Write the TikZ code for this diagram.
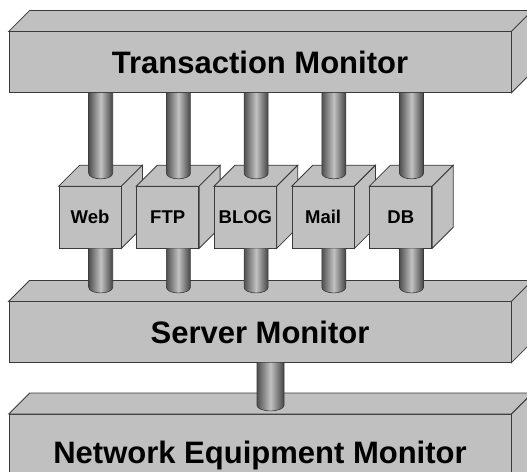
\documentclass[tikz,border=0pt]{standalone}
\usepackage{fontspec}
\setmainfont{Liberation Sans}
\usetikzlibrary{calc}
\definecolor{slab}{HTML}{C0C0C0}
\definecolor{edge}{HTML}{3A3A3A}
\definecolor{pillardark}{HTML}{505050}
\definecolor{pillarlight}{HTML}{C2C2C2}
\tikzstyle{face}=[draw=edge, fill=slab, line width=0.8pt]
\tikzstyle{monitor}=[face, minimum width=502pt, minimum height=60.5pt, inner sep=0, font=\fontsize{31}{36}\selectfont\bfseries]
\tikzstyle{service}=[face, minimum width=62pt, minimum height=61.3pt, inner sep=0, font=\fontsize{18.5}{21}\selectfont\bfseries]
\tikzstyle{pillar}=[left color=pillardark, right color=pillardark!85!black, middle color=pillarlight, draw=edge, line width=0.6pt]
% shaded column from a top point down to the lowest point of its rounded end
\newcommand{\pillar}[3]{\draw[pillar] ($(#1)+(-#3/2,0)$) -- ($(#2)+(-#3/2,5.5)$)
  arc[start angle=180, end angle=360, x radius=#3/2, y radius=5.5] -- ($(#1)+(#3/2,0)$);}
% top and right faces of a box whose front face is a node
\newcommand{\sides}[1]{%
  \draw[face] (#1.north west) -- ++(21,21) -- ($(#1.north east)+(21,21)$) -- (#1.north east) -- cycle;
  \draw[face] (#1.north east) -- ++(21,21) -- ($(#1.south east)+(21,21)$) -- (#1.south east) -- cycle;}

\begin{document}
\begin{tikzpicture}[x=1pt, y=1pt]
  \clip (0,0) rectangle (527,471);

  \node[monitor, minimum height=81pt] (network) at (260, 16) {Network Equipment Monitor};
  \sides{network}
  \node[monitor] (server) at (260, 138.9) {Server Monitor};
  \sides{server}
  \node[monitor] (transaction) at (260, 408.85) {Transaction Monitor};
  \sides{transaction}

  \foreach \name/\txt [count=\i from 0] in {web/Web, ftp/FTP, blog/BLOG, mail/Mail, db/DB} {
    \node[service] (\name) at (90+77.7*\i, 253.7) {\txt};
    \sides{\name}
    \coordinate (\name-x) at ($(\name.north)+(10.7,0)$);
    \coordinate (\name-top) at (transaction.south -| \name-x);
    \coordinate (\name-cap) at ($(\name.north)+(10.7,7.4)$);
    \coordinate (\name-low) at ($(\name.south)+(10.7,0)$);
    \coordinate (\name-foot) at ($(server.north -| \name-x)+(0,8.5)$);
  }

  \foreach \name in {web, ftp, blog, mail, db} {
    \pillar{\name-top}{\name-cap}{24}
    \pillar{\name-low}{\name-foot}{24}
  }

  \coordinate (link-top) at ($(server.south)+(10.5,0)$);
  \coordinate (link-foot) at ($(network.north)+(10.5,3.2)$);
  \pillar{link-top}{link-foot}{27}
\end{tikzpicture}
\end{document}
